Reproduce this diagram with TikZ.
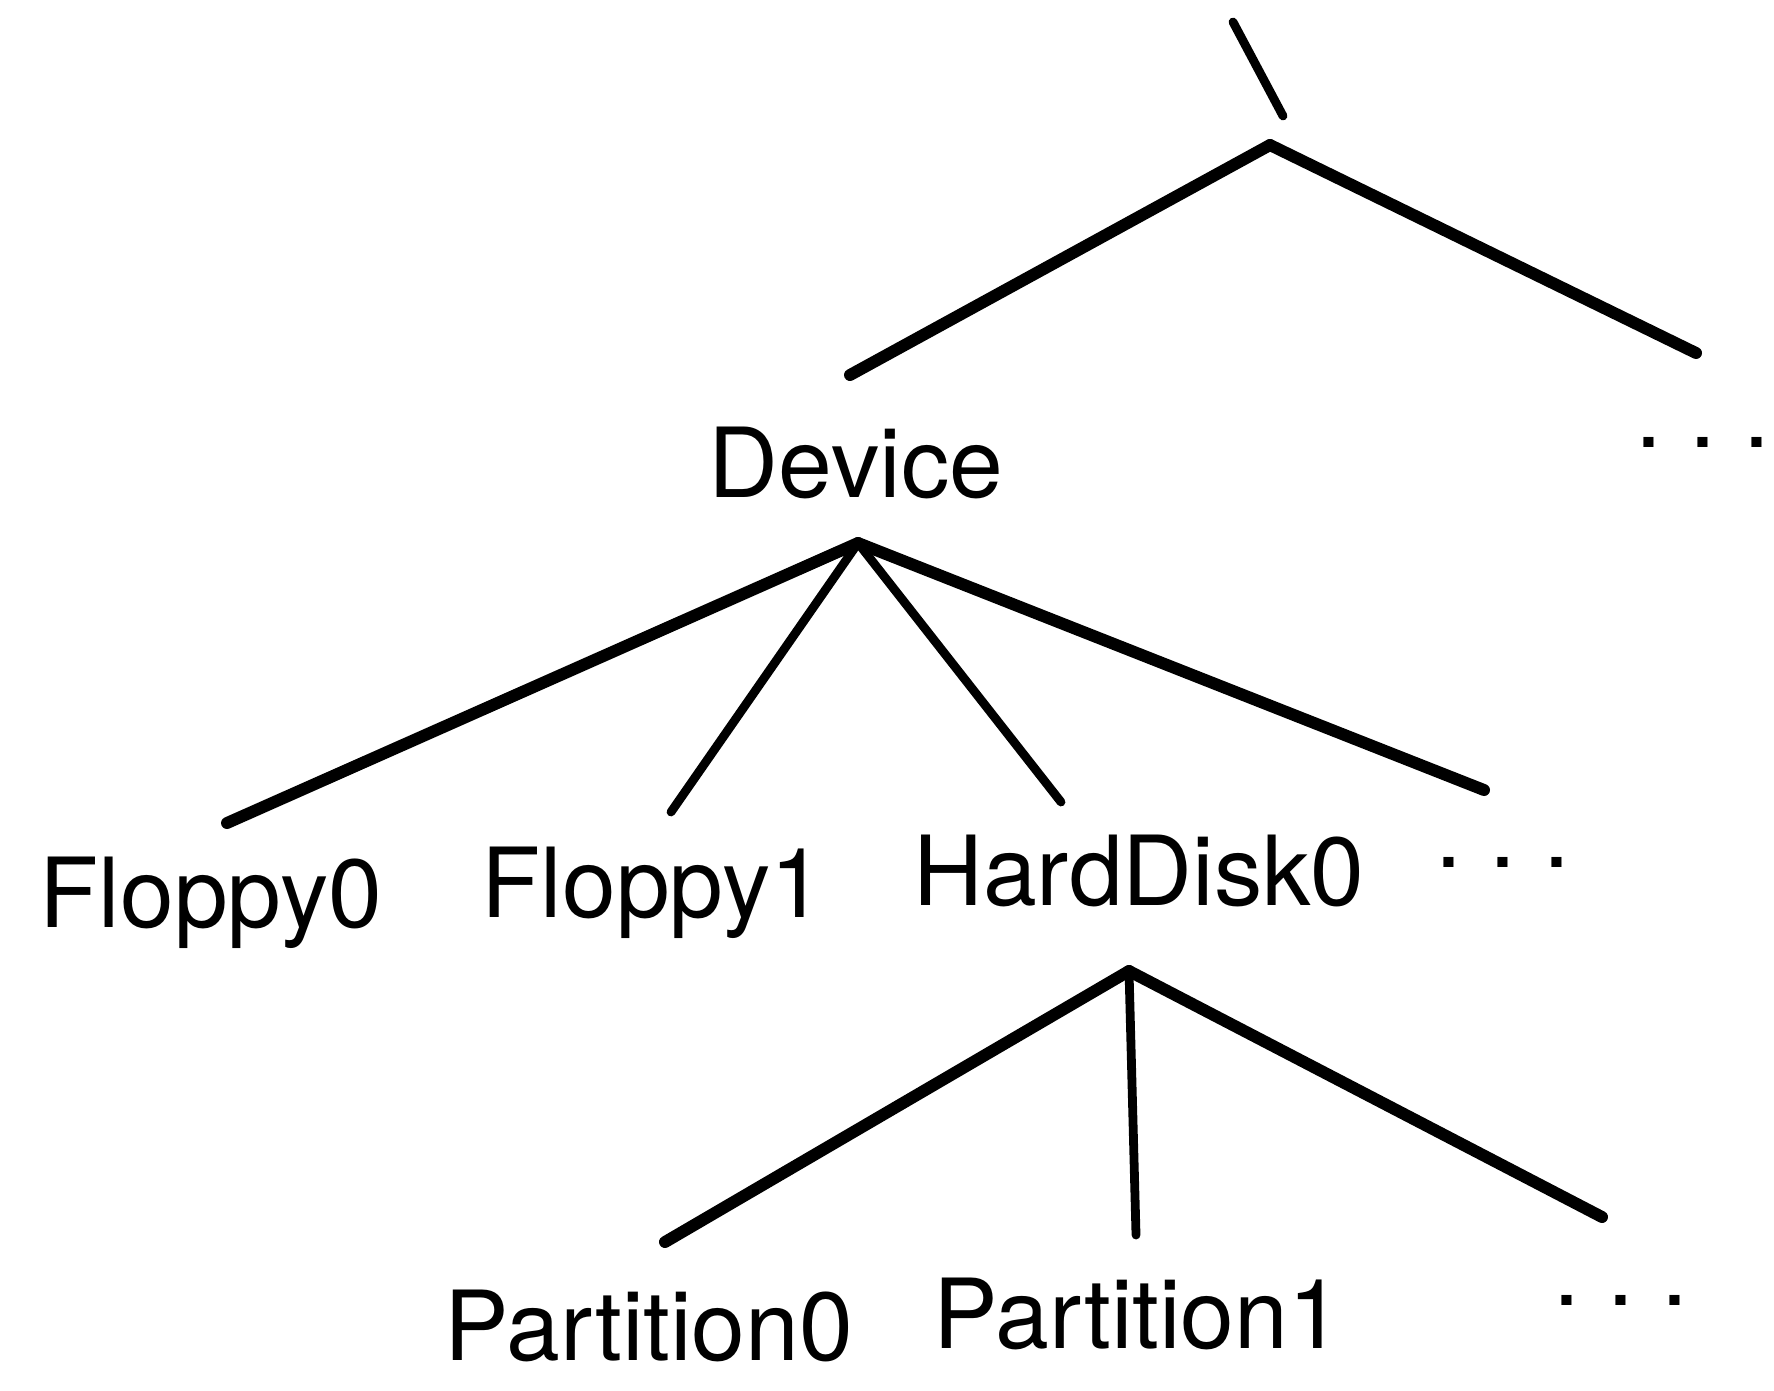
\documentclass[tikz,border=0pt]{standalone}
\usepackage{fontspec}
\setmainfont{TeX Gyre Heros}

\tikzset{lbl/.style={inner sep=0pt,anchor=base,font=\fontsize{27.5}{33}\selectfont},
         dts/.style={inner sep=0pt,font=\fontsize{27.5}{33}\selectfont},
         br/.style={line width=3.4pt,line cap=round,line join=round},
         tw/.style={line width=2.5pt,line cap=round}}

\begin{document}
\begin{tikzpicture}[x=0.01cm,y=-0.01cm]
\useasboundingbox (0,0) rectangle (1774,1390);
% labels
\node[lbl] (dev) at (856,497) {Device};
\node[dts] (dtop) at (1703,442) {.\ .\ .};
%
\node[lbl] (fa) at (211,927) {Floppy0};
\node[lbl] (fb) at (653,917) {Floppy1};
\node[lbl] (hd) at (1139,905) {HardDisk0};
\node[dts] (dmid) at (1503,862) {.\ .\ .};
%
\node[lbl] (pa) at (649,1360) {Partition0};
\node[lbl] (pb) at (1138,1348) {Partition1};
\node[dts] (dbot) at (1621,1300) {.\ .\ .};
% fork points and line ends
\coordinate (up) at (1233,22);
\coordinate (upe) at (1283,116);
\coordinate (root) at (1270,145);
\coordinate (rl) at (850,375);
\coordinate (rr) at (1696,353);
%
\coordinate (dk) at (858,543);
\coordinate (dfa) at (227,823);
\coordinate (dfb) at (671,812);
\coordinate (dhd) at (1061,802);
\coordinate (ddt) at (1484,790);
%
\coordinate (hk) at (1129,971);
\coordinate (hpa) at (665,1242);
\coordinate (hpb) at (1136,1235);
\coordinate (hdt) at (1602,1217);

\draw[br] (root) edge (rl)
          (root) edge (rr)
          (dk) edge (dfa)
          (dk) edge (ddt)
          (hk) edge (hpa)
          (hk) edge (hdt)
;
\draw[tw] (up) edge (upe)
          (dk) edge (dfb)
          (dk) edge (dhd)
          (hk) edge (hpb)
;
\end{tikzpicture}
\end{document}
